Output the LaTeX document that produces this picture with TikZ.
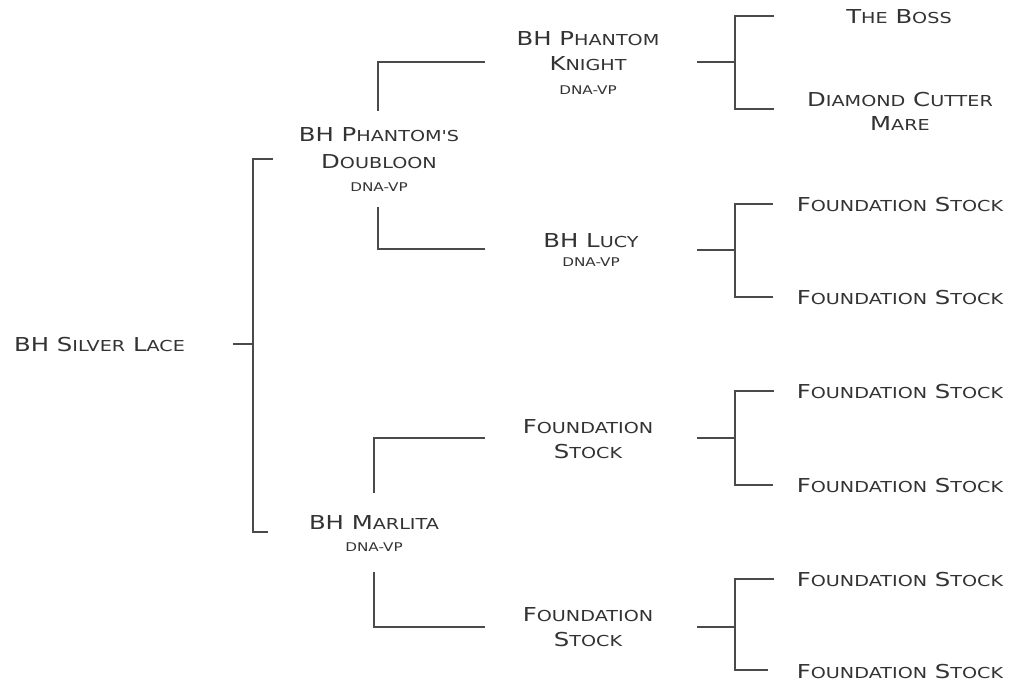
\documentclass[tikz,border=0pt]{standalone}
\usepackage{fontspec}
\newfontfamily\pedf[FakeStretch=1.27]{DejaVu Sans}
\newcommand\pedbig{\pedf\fontsize{19.2}{25}\selectfont}
\newcommand\pedsc[1]{{\fontsize{15.1}{25}\selectfont #1}}
\newcommand\pedvp{{\fontsize{12}{25}\selectfont DNA-VP}}
\definecolor{txt}{HTML}{333333}
\definecolor{ln}{HTML}{4A4A4A}
\tikzset{
  lbl/.style={inner sep=0pt, align=center, font=\pedbig, text=txt, anchor=north},
  brk/.style={draw=ln, line width=1.3pt}
}
\begin{document}
\begin{tikzpicture}[x=1pt,y=-1pt]
\useasboundingbox (0,0) rectangle (1012,687);
% labels
\node[lbl, anchor=north west] (root) at (14,336.7) {BH S\pedsc{ILVER} L\pedsc{ACE}};
\node[lbl] (doub) at (379,127.7) {BH P\pedsc{HANTOM'S}\\[1.6pt]D\pedsc{OUBLOON}\\[-1.6pt]\pedvp};
\node[lbl] (marl) at (374,515.3) {BH M\pedsc{ARLITA}\\[-2.6pt]\pedvp};
\node[lbl] (knight) at (588,31.7) {BH P\pedsc{HANTOM}\\K\pedsc{NIGHT}\\[-1.4pt]\pedvp};
\node[lbl] (lucy) at (591,233.3) {BH L\pedsc{UCY}\\[-6.3pt]\pedvp};
\node[lbl] (fsa) at (588,419) {F\pedsc{OUNDATION}\\S\pedsc{TOCK}};
\node[lbl] (fsb) at (588,607) {F\pedsc{OUNDATION}\\S\pedsc{TOCK}};
\node[lbl] (boss) at (899,9) {T\pedsc{HE} B\pedsc{OSS}};
\node[lbl] (dia) at (900,91.7) {D\pedsc{IAMOND} C\pedsc{UTTER}\\[-1pt]M\pedsc{ARE}};
\node[lbl, anchor=center] (g1) at (900,205) {F\pedsc{OUNDATION} S\pedsc{TOCK}};
\node[lbl, anchor=center] (g2) at (900,298) {F\pedsc{OUNDATION} S\pedsc{TOCK}};
\node[lbl, anchor=center] (g3) at (900,392) {F\pedsc{OUNDATION} S\pedsc{TOCK}};
\node[lbl, anchor=center] (g4) at (900,486) {F\pedsc{OUNDATION} S\pedsc{TOCK}};
\node[lbl, anchor=center] (g5) at (900,580) {F\pedsc{OUNDATION} S\pedsc{TOCK}};
\node[lbl, anchor=center] (g6) at (900,672) {F\pedsc{OUNDATION} S\pedsc{TOCK}};
% bracket coordinates
\coordinate (rs) at (233,344);
\coordinate (rj) at (253,344);
\coordinate (rt) at (273,159);
\coordinate (rb) at (268,532);
\coordinate (du0) at (378,111);
\coordinate (du1) at (485,62);
\coordinate (dd0) at (378,207);
\coordinate (dd1) at (485,249);
\coordinate (mu0) at (374,493);
\coordinate (mu1) at (485,438);
\coordinate (md0) at (374,572);
\coordinate (md1) at (485,627);
\coordinate (ks) at (697,62);
\coordinate (kj) at (735,62);
\coordinate (kt) at (774,16);
\coordinate (kb) at (774,109);
\coordinate (ls) at (697,250);
\coordinate (lj) at (735,250);
\coordinate (lt) at (773,204);
\coordinate (lb) at (773,297);
\coordinate (as) at (697,438);
\coordinate (aj) at (735,438);
\coordinate (at1) at (774,391);
\coordinate (ab1) at (773,485);
\coordinate (bs) at (697,627);
\coordinate (bj) at (735,627);
\coordinate (bt1) at (774,579);
\coordinate (bb1) at (768,670);
% connectors
\draw[brk] (rs) -- (rj);
\draw[brk] (rt) -| (rj) |- (rb);
\draw[brk] (du0) |- (du1);
\draw[brk] (dd0) |- (dd1);
\draw[brk] (mu0) |- (mu1);
\draw[brk] (md0) |- (md1);
\draw[brk] (ks) -- (kj);
\draw[brk] (kt) -| (kj) |- (kb);
\draw[brk] (ls) -- (lj);
\draw[brk] (lt) -| (lj) |- (lb);
\draw[brk] (as) -- (aj);
\draw[brk] (at1) -| (aj) |- (ab1);
\draw[brk] (bs) -- (bj);
\draw[brk] (bt1) -| (bj) |- (bb1);
\end{tikzpicture}
\end{document}
